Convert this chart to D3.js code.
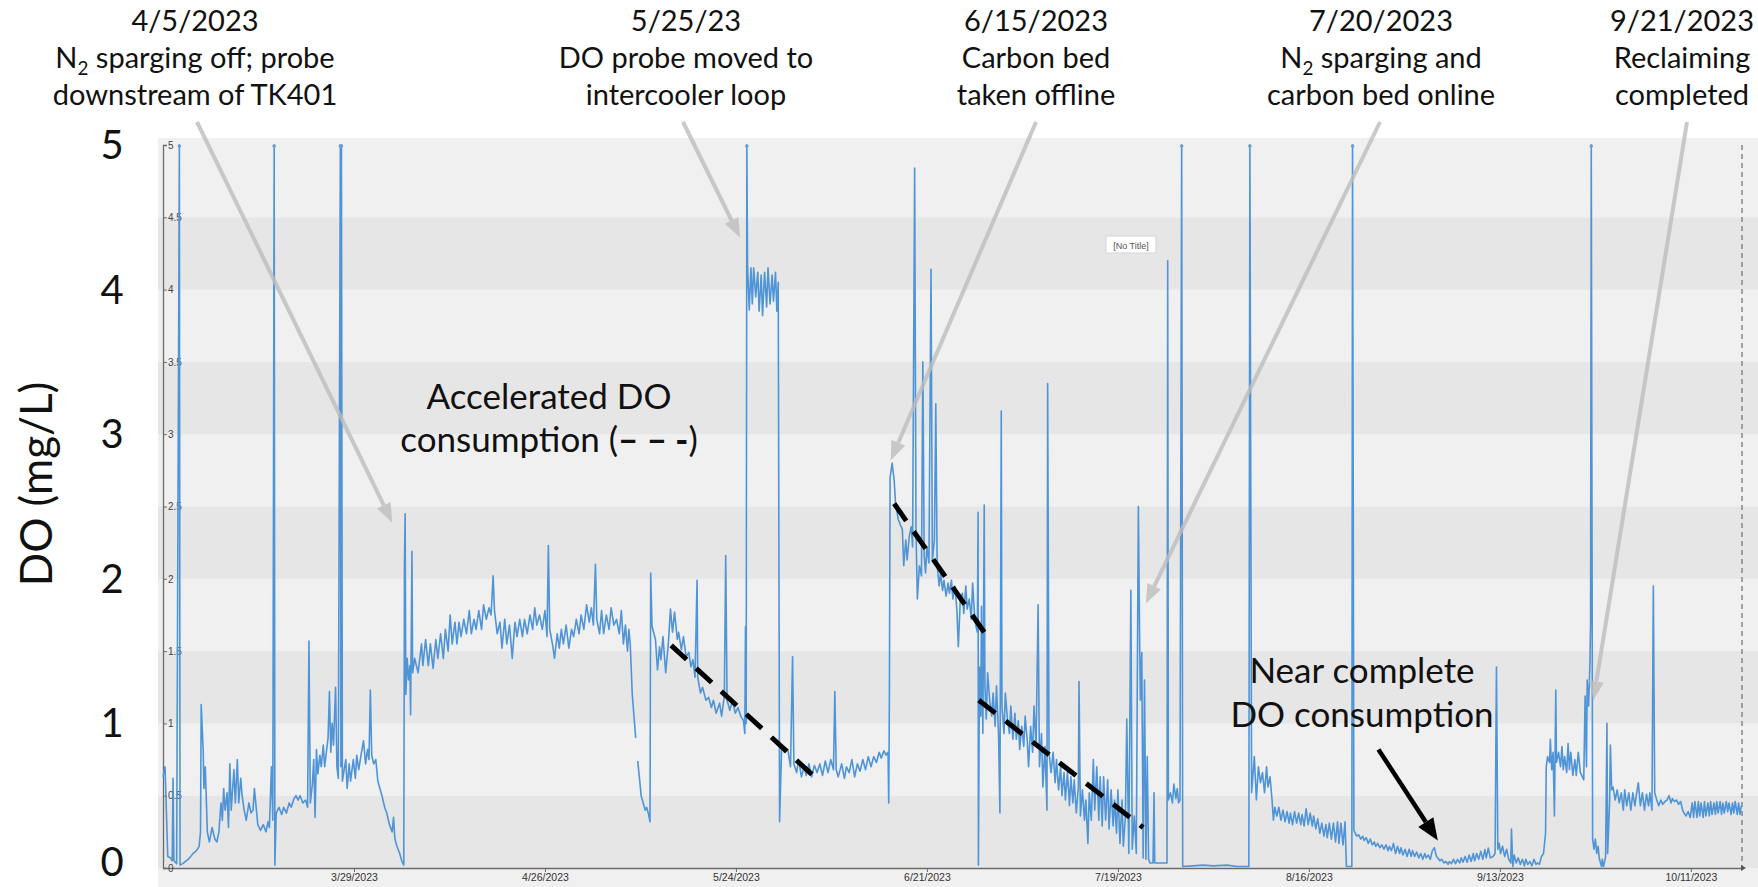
<!DOCTYPE html>
<html>
<head>
<meta charset="utf-8">
<script src="https://cdn.jsdelivr.net/npm/d3@7"></script>
<style>
  html, body { margin: 0; padding: 0; background: #ffffff; }
  svg { display: block; }
</style>
</head>
<body>
<svg id="chart" width="1758" height="887"></svg>
<script>
// Dissolved oxygen readings, [days since 1 Mar 2023, DO in mg/L]; null marks a logging gap.
const seriesStart = Date.UTC(2023, 2, 1);

const marchReadings = [
  [0.0,0.63],[0.3,0.70],[0.7,0.08],[1.1,0.07],[1.35,0.05],[1.47,0.62],[1.6,0.05],[2.0,0.03],[2.4,5.0],[2.5,0.02],
  [2.9,0.03],[3.4,0.05],[3.9,0.07],[4.4,0.10],[4.9,0.12],[5.3,0.15],[5.5,0.25],[5.6,1.13],[5.9,0.80],[6.0,0.55],
  [6.2,0.70],[6.5,0.25],[6.8,0.18],[7.2,0.28],[7.6,0.20],[7.9,0.18],[8.2,0.25],[8.5,0.45],[8.7,0.33],[8.9,0.55],
  [9.1,0.40],[9.4,0.52],[9.6,0.28],[9.8,0.72],[10.0,0.40],[10.4,0.68],[10.6,0.45],[10.9,0.75],[11.1,0.45],[11.4,0.62],
  [11.6,0.50],[11.9,0.40],[12.2,0.33],[12.6,0.45],[12.9,0.38],[13.2,0.40],[13.4,0.55],[13.6,0.45],[13.9,0.30],[14.3,0.26],
  [14.7,0.30],[15.1,0.25],[15.4,0.32],[15.6,0.28],[15.9,0.70],[16.1,0.33],[16.3,5.0],[16.4,0.02],[16.6,0.38],[17.0,0.42],
  [17.4,0.37],[17.7,0.42],[18.1,0.38],[18.5,0.45],[18.8,0.42],[19.2,0.48],[19.5,0.50],[19.8,0.47],[20.1,0.50],[20.5,0.45],
  [20.9,0.47],[21.2,0.42],[21.4,1.57],[21.6,0.45],[21.9,0.58],[22.1,0.75],[22.3,0.35],[22.5,0.82],[22.7,0.65],[23.0,0.78],
  [23.2,0.70],[23.5,0.85],[23.7,0.70],[23.9,0.78],[24.2,0.90],[24.4,1.22],[24.6,0.80],[24.8,1.00],[25.0,0.85],[25.3,1.25],
  [25.5,0.70],[25.7,0.62],[26.0,5.0],[26.08,0.70],[26.16,5.0],[26.3,0.60],[26.8,0.75],[27.0,0.55],[27.3,0.72],[27.5,0.60],
  [27.9,0.75],[28.2,0.62],[28.4,0.78],[28.7,0.68],[29.1,0.80],[29.4,0.88],[29.7,0.72],[30.0,0.82],[30.2,0.75],[30.4,1.23],
  [30.6,0.78],[30.9,0.72]
];

const aprilReadings = [
  [31.2,0.75],[31.5,0.60],[31.8,0.55],[32.1,0.50],[32.5,0.42],[32.8,0.38],[33.2,0.30],[33.6,0.25],[33.8,0.35],[34.0,0.20],
  [34.3,0.15],[34.7,0.10],[35.0,0.05],[35.3,0.02],[35.4,2.10],[35.5,2.45],[35.6,1.20],[35.8,1.45],[36.0,1.30],[36.2,1.40],
  [36.3,1.06],[36.5,2.19],[36.6,1.35],[36.9,1.45],[37.4,1.35],[37.9,1.55],[38.1,1.40],[38.5,1.58],[38.9,1.40],[39.2,1.55],
  [39.6,1.38],[40.0,1.58],[40.3,1.45],[40.7,1.62],[41.1,1.45],[41.4,1.65],[41.8,1.50],[42.1,1.75],[42.4,1.55],[42.8,1.70],
  [43.1,1.55],[43.4,1.70],[43.7,1.60],[44.1,1.72],[44.5,1.62],[44.9,1.78],[45.2,1.62],[45.6,1.72],[45.9,1.65],[46.3,1.78],
  [46.7,1.65],[47.0,1.82],[47.4,1.72],[47.8,1.80],[48.1,1.75],[48.4,2.02],[48.6,1.78],[49.0,1.62],[49.4,1.70],[49.7,1.52],
  [50.1,1.72],[50.4,1.55],[50.8,1.68],[51.2,1.45],[51.6,1.70],[51.9,1.60],[52.3,1.72],[52.7,1.60],[53.0,1.72],[53.4,1.62],
  [53.8,1.75],[54.2,1.65],[54.5,1.80],[54.8,1.68],[55.2,1.75],[55.6,1.65],[56.0,1.78],[56.3,1.60],[56.5,2.23],[56.7,1.65],
  [57.1,1.55],[57.4,1.45],[57.8,1.62],[58.1,1.52],[58.4,1.65],[58.7,1.55],[59.1,1.68],[59.5,1.52],[59.9,1.65],[60.2,1.60],
  [60.6,1.72]
];

const mayReadings = [
  [61.0,1.62],[61.3,1.75],[61.7,1.65],[62.1,1.82],[62.5,1.70],[62.8,1.80],[63.1,1.68],[63.4,2.10],[63.6,1.72],[64.0,1.62],
  [64.3,1.78],[64.6,1.62],[65.0,1.75],[65.4,1.65],[65.7,1.80],[66.1,1.68],[66.5,1.72],[66.9,1.62],[67.2,1.78],[67.5,1.55],
  [67.8,1.68],[68.1,1.50],[68.3,1.65],[68.5,1.55],[68.8,1.20],[69.3,0.90],[69.45,null],[69.6,0.74],[69.9,0.60],[70.1,0.50],
  [70.4,0.45],[70.7,0.40],[70.9,0.42],[71.2,0.37],[71.4,0.32],[71.5,2.04],[71.7,1.67],[72.2,1.58],[72.5,1.37],[72.8,1.53],
  [73.0,1.44],[73.3,1.60],[73.7,1.35],[74.1,1.56],[74.4,1.79],[74.7,1.63],[75.0,1.77],[75.4,1.58],[75.6,1.63],[76.0,1.51],
  [76.3,1.60],[76.7,1.46],[77.1,1.49],[77.4,1.39],[77.7,1.44],[78.0,1.32],[78.3,1.99],[78.4,1.32],[78.8,1.21],[79.1,1.25],
  [79.6,1.16],[80.0,1.18],[80.4,1.11],[80.7,1.16],[81.1,1.07],[81.6,1.14],[81.9,1.05],[82.3,1.19],[82.5,2.16],[82.7,1.16],
  [83.1,1.09],[83.5,1.16],[83.9,1.07],[84.3,1.11],[84.7,1.05],[85.1,1.02],[85.3,0.93],[85.4,1.67],[85.5,1.00],[85.6,5.0],
  [85.7,4.17],[85.95,3.86],[86.2,4.15],[86.4,3.90],[86.6,4.15],[86.9,3.95],[87.2,4.12],[87.4,3.85],[87.7,4.10],[87.9,3.82],
  [88.2,4.12],[88.5,3.88],[88.7,4.15],[89.0,3.90],[89.3,4.10],[89.5,3.92],[89.8,4.12],[90.0,3.85],[90.2,4.05],[90.4,0.32],
  [90.7,0.84],[91.1,0.80],[91.6,0.82]
];

const juneReadings = [
  [92.0,0.70],[92.3,1.46],[92.5,0.72],[92.9,0.66],[93.2,0.75],[93.6,0.63],[94.0,0.70],[94.3,0.64],[94.7,0.72],[95.1,0.63],
  [95.5,0.71],[95.9,0.66],[96.3,0.72],[96.7,0.64],[97.1,0.74],[97.5,0.66],[97.9,0.75],[98.3,0.68],[98.5,1.22],[98.7,0.68],
  [99.0,0.63],[99.5,0.72],[99.9,0.62],[100.2,0.70],[100.6,0.66],[101.0,0.75],[101.4,0.63],[101.8,0.72],[102.2,0.67],[102.6,0.75],
  [103.0,0.68],[103.4,0.77],[103.8,0.70],[104.2,0.77],[104.6,0.73],[105.0,0.80],[105.3,0.76],[105.7,0.81],[106.0,0.78],[106.3,0.80],
  [106.4,0.45],[106.5,1.20],[106.6,2.70],[106.9,2.80],[107.2,2.68],[107.4,2.52],[107.8,2.41],[108.4,2.34],[108.6,2.09],[108.9,2.27],
  [109.1,2.13],[109.4,2.29],[109.7,2.36],[109.9,2.22],[110.2,4.84],[110.4,2.32],[110.6,1.86],[110.9,2.09],[111.2,2.02],[111.4,3.50],
  [111.6,2.16],[111.8,2.04],[112.0,2.22],[112.3,2.11],[112.6,4.14],[112.8,2.13],[113.1,2.27],[113.3,3.21],[113.5,2.09],[113.8,1.95],
  [114.0,2.04],[114.3,1.92],[114.5,1.99],[114.8,1.88],[115.1,1.97],[115.3,1.90],[115.6,1.99],[115.8,1.86],[116.1,1.95],[116.4,1.78],
  [116.6,1.53],[116.9,1.86],[117.2,1.90],[117.4,1.76],[117.7,1.95],[117.9,1.79],[118.2,1.86],[118.5,1.72],[118.7,1.97],[119.0,1.74],
  [119.2,1.67],[119.4,1.63],[119.5,2.46],[119.55,0.02],[119.7,1.39],[119.9,1.05],[120.0,1.81],[120.2,0.93],[120.4,2.51],[120.5,1.26],
  [120.7,1.03],[120.9,1.35],[121.2,1.16],[121.5,1.05],[121.7,1.21]
];

const julyReadings = [
  [122.0,0.98],[122.2,1.26],[122.5,0.93],[122.7,0.38],[122.9,3.16],[123.0,1.12],[123.3,0.93],[123.5,1.21],[123.8,1.03],[124.1,0.93],
  [124.3,1.12],[124.6,0.89],[124.9,1.07],[125.1,0.89],[125.4,1.02],[125.6,0.82],[125.9,0.98],[126.2,0.84],[126.4,1.05],[126.7,0.89],
  [126.9,0.70],[127.2,0.98],[127.5,0.80],[127.7,1.12],[128.0,0.84],[128.3,1.82],[128.5,0.70],[128.8,0.93],[129.0,0.56],[129.3,0.84],
  [129.6,0.40],[129.7,3.35],[129.9,0.80],[130.2,0.66],[130.5,0.80],[130.8,0.59],[131.0,0.75],[131.3,0.54],[131.6,0.70],[131.8,0.50],
  [132.1,0.66],[132.3,0.47],[132.6,0.66],[132.9,0.43],[133.1,0.63],[133.4,0.45],[133.6,0.61],[133.9,0.38],[134.2,0.56],[134.3,1.29],
  [134.5,0.36],[134.8,0.54],[135.1,0.33],[135.3,0.47],[135.6,0.17],[135.8,0.52],[136.1,0.33],[136.4,0.75],[136.6,0.40],[136.9,0.70],
  [137.2,0.33],[137.4,0.63],[137.7,0.29],[137.9,0.63],[138.2,0.33],[138.5,0.61],[138.7,0.27],[139.0,0.54],[139.3,0.29],[139.5,0.47],
  [139.8,0.24],[140.0,0.54],[140.3,0.17],[140.6,0.47],[140.8,0.15],[141.1,0.36],[141.3,1.03],[141.6,0.10],[141.9,1.92],[142.1,0.13],
  [142.4,0.36],[142.7,0.10],[142.8,0.93],[143.0,2.50],[143.2,1.51],[143.3,1.16],[143.5,1.49],[143.7,0.07],[143.9,1.30],[144.1,0.06],
  [144.3,0.77],[144.5,0.06],[144.7,0.035],[145.15,0.035],[145.3,0.52],[145.4,0.035],[147.2,0.035],[147.3,4.20],[147.4,0.47],[147.7,0.52],
  [148.0,0.45],[148.2,0.58],[148.5,0.48],[148.7,0.55],[148.9,0.45],[149.1,0.47],[149.35,5.0],[149.5,0.01],[151.0,0.015],[152.5,0.02]
];

const augustReadings = [
  [154.0,0.015],[156.0,0.02],[157.5,0.01],[159.2,0.01],[159.35,5.0],[159.6,0.52],[160.0,0.77],[160.3,0.47],[160.6,0.70],[160.9,0.59],
  [161.2,0.66],[161.5,0.52],[161.8,0.70],[162.0,0.56],[162.3,0.63],[162.6,0.47],[162.8,0.33],[163.0,0.42],[163.3,0.36],[163.6,0.42],
  [163.9,0.33],[164.2,0.40],[164.5,0.32],[164.8,0.39],[165.1,0.31],[165.3,0.38],[165.6,0.30],[165.9,0.39],[166.2,0.31],[166.5,0.38],
  [166.8,0.30],[167.0,0.37],[167.3,0.29],[167.6,0.41],[167.9,0.30],[168.2,0.38],[168.5,0.29],[168.7,0.36],[169.0,0.27],[169.3,0.34],
  [169.6,0.24],[169.9,0.31],[170.2,0.22],[170.5,0.30],[170.7,0.21],[171.0,0.31],[171.3,0.20],[171.6,0.31],[171.9,0.18],[172.2,0.32],
  [172.4,0.17],[172.7,0.31],[173.0,0.16],[173.3,0.32],[173.5,0.01],[174.3,0.01],[174.4,5.0],[174.6,0.26],[175.0,0.22],[175.3,0.23],
  [175.6,0.20],[175.9,0.22],[176.1,0.19],[176.4,0.21],[176.7,0.17],[177.0,0.20],[177.3,0.16],[177.6,0.18],[177.8,0.15],[178.1,0.17],
  [178.4,0.14],[178.7,0.16],[179.0,0.13],[179.3,0.16],[179.6,0.12],[179.8,0.15],[180.1,0.12],[180.4,0.17],[180.7,0.10],[181.0,0.15],
  [181.3,0.10],[181.5,0.14],[181.8,0.09],[182.1,0.13],[182.4,0.08],[182.7,0.13],[183.0,0.08],[183.2,0.12],[183.5,0.08],[183.8,0.11]
];

const septemberReadings = [
  [184.1,0.07],[184.4,0.10],[184.7,0.06],[185.0,0.10],[185.2,0.07],[185.5,0.09],[185.8,0.06],[186.1,0.12],[186.4,0.14],[186.7,0.08],
  [186.9,0.07],[187.2,0.05],[187.5,0.06],[187.8,0.035],[188.1,0.045],[188.4,0.025],[188.6,0.045],[188.9,0.03],[189.2,0.06],[189.5,0.03],
  [189.8,0.06],[190.1,0.035],[190.35,0.07],[190.6,0.04],[190.9,0.08],[191.2,0.04],[191.5,0.09],[191.8,0.045],[192.1,0.10],[192.3,0.05],
  [192.6,0.10],[192.9,0.06],[193.2,0.115],[193.5,0.06],[193.8,0.127],[194.0,0.07],[194.3,0.138],[194.6,0.07],[195.0,0.08],[195.3,0.10],
  [195.5,1.39],[195.7,0.13],[195.9,0.17],[196.1,0.10],[196.4,0.15],[196.7,0.08],[197.0,0.13],[197.3,0.06],[197.6,0.035],[197.7,0.27],
  [197.9,0.01],[198.1,0.09],[198.4,0.035],[198.7,0.07],[199.0,0.025],[199.3,0.06],[199.6,0.015],[199.8,0.06],[200.1,0.025],[200.4,0.045],
  [200.7,0.015],[201.0,0.06],[201.3,0.025],[201.5,0.035],[201.8,0.025],[202.1,0.08],[202.4,0.10],[202.7,0.24],[202.8,0.70],[203.0,0.77],
  [203.3,0.73],[203.4,0.89],[203.6,0.68],[203.8,0.80],[204.0,0.36],[204.2,1.23],[204.3,0.73],[204.6,0.80],[204.9,0.70],[205.1,0.84],
  [205.3,0.68],[205.5,0.77],[205.8,0.66],[206.0,0.86],[206.2,0.68],[206.4,0.80],[206.7,0.64],[207.0,0.75],[207.2,0.64],[207.5,0.80],
  [207.8,0.66],[208.0,0.64],[208.3,0.61],[208.5,1.19],[208.7,0.70],[208.8,1.30],[209.0,1.12],[209.2,1.40],[209.3,1.70],[209.4,5.0],
  [209.6,0.20],[209.8,0.13],[210.0,0.20],[210.2,0.10],[210.4,0.15],[210.6,0.06],[210.9,0.01],[211.0,0.06],[211.2,0.01],[211.5,0.08],
  [211.7,1.00],[211.8,0.10],[212.1,0.47],[212.2,0.85],[212.4,0.54],[212.6,0.56],[212.9,0.47],[213.2,0.54],[213.5,0.45],[213.8,0.52]
];

const octoberReadings = [
  [214.1,0.40],[214.3,0.54],[214.6,0.43],[214.9,0.52],[215.2,0.40],[215.5,0.52],[215.8,0.43],[216.0,0.50],[216.3,0.59],[216.6,0.43],
  [216.9,0.52],[217.2,0.40],[217.5,0.51],[217.8,0.43],[218.0,0.52],[218.3,0.40],[218.5,1.95],[218.7,0.52],[219.0,0.47],[219.3,0.43],
  [219.6,0.47],[219.9,0.44],[220.2,0.46],[220.5,0.47],[220.8,0.50],[221.1,0.45],[221.3,0.48],[221.6,0.46],[221.9,0.47],[222.2,0.44],
  [222.5,0.46],[222.8,0.40],[223.0,0.38],[223.3,0.36],[223.6,0.39],[223.9,0.35],[224.2,0.45],[224.4,0.35],[224.6,0.46],[224.9,0.35],
  [225.1,0.46],[225.3,0.36],[225.5,0.45],[225.8,0.35],[226.0,0.46],[226.2,0.36],[226.5,0.45],[226.7,0.36],[226.9,0.46],[227.1,0.37],
  [227.4,0.45],[227.6,0.37],[227.8,0.46],[228.0,0.38],[228.3,0.46],[228.5,0.37],[228.7,0.45],[228.9,0.38],[229.2,0.46],[229.4,0.39],
  [229.6,0.45],[229.9,0.37],[230.1,0.45],[230.3,0.38],[230.5,0.46],[230.8,0.37],[231.0,0.45],[231.2,0.37],[231.4,0.43]
];

// Axis ticks
const xTickLabels = ["3/29/2023","4/26/2023","5/24/2023","6/21/2023","7/19/2023","8/16/2023","9/13/2023","10/11/2023"];
const yTickValues = [0,0.5,1,1.5,2,2.5,3,3.5,4,4.5,5];
const yMajorNumbers = [0,1,2,3,4,5];
const seriesEndDay = 231.5;
const sensorCeiling = 5;

// Event call-outs: title, note lines ({2} = subscript), arrow tip [day, mg/L]
const eventTitles = ["4/5/2023","5/25/23","6/15/2023","7/20/2023","9/21/2023"];
const eventNotes = [
  ["N{2} sparging off; probe","downstream of TK401"],
  ["DO probe moved to","intercooler loop"],
  ["Carbon bed","taken offline"],
  ["N{2} sparging and","carbon bed online"],
  ["Reclaiming","completed"]
];
const eventTips = [[33.6,2.39],[84.6,4.36],[106.7,2.82],[144.1,1.83],[209.7,1.16]];

// Consumption trend segments [[day, mg/L], [day, mg/L]]
const trendSegments = [
  [[74.5,1.54],[95.3,0.64]],
  [[107.2,2.52],[121.0,1.59]],
  [[119.6,1.16],[143.7,0.28]]
];
const nearZeroArrow = [[178.2,0.82],[186.9,0.19]];

// ---------- layout ----------
const W = 1758, H = 887;
const plot = { left: 163, right: 1742, top: 145, bottom: 868 };
const panel = { left: 158, right: 1758, top: 138, bottom: 887 };
const eventCenters = [195, 686, 1036, 1381, 1682];
const eventArrowStarts = [197, 683, 1036, 1380, 1687];
const textFont = "Lato, 'Open Sans', sans-serif";
const axisFont = "'Liberation Sans', Arial, sans-serif";

const dayToDate = d => new Date(seriesStart + d * 864e5);

const readings = [].concat(marchReadings, aprilReadings, mayReadings, juneReadings,
  julyReadings, augustReadings, septemberReadings, octoberReadings);

const x = d3.scaleUtc()
  .domain([dayToDate(0), dayToDate(seriesEndDay)])
  .range([plot.left, plot.right]);
const y = d3.scaleLinear().domain([0, 5]).range([plot.bottom, plot.top]);

const svg = d3.select("#chart");

// Chart panel with alternating horizontal bands
svg.append("rect")
  .attr("x", panel.left).attr("y", panel.top)
  .attr("width", panel.right - panel.left).attr("height", panel.bottom - panel.top)
  .attr("fill", "#f0f0f0");

const bandStarts = d3.range(0, 5, 0.5);
svg.append("g").selectAll("rect").data(bandStarts).join("rect")
  .attr("x", panel.left)
  .attr("width", panel.right - panel.left)
  .attr("y", d => y(d + 0.5))
  .attr("height", d => y(d) - y(d + 0.5))
  .attr("fill", (d, i) => i % 2 === 0 ? "#e6e6e6" : "#f0f0f0");

// Right-hand dashed boundary
svg.append("line")
  .attr("x1", plot.right).attr("x2", plot.right)
  .attr("y1", plot.top).attr("y2", plot.bottom)
  .attr("stroke", "#555").attr("stroke-width", 1)
  .attr("stroke-dasharray", "5,4");

// X axis
const parseTick = d3.utcParse("%m/%d/%Y");
const xAxis = d3.axisBottom(x)
  .tickValues(xTickLabels.map(parseTick))
  .tickFormat(d3.utcFormat("%-m/%-d/%Y"))
  .tickSize(4).tickSizeOuter(0).tickPadding(2);
const gx = svg.append("g")
  .attr("transform", `translate(0,${plot.bottom})`)
  .call(xAxis);
gx.select(".domain").attr("stroke", "#6b6b6b").attr("stroke-width", 1.3);
gx.selectAll(".tick line").attr("stroke", "#6b6b6b");
gx.selectAll(".tick text")
  .attr("font-family", axisFont).attr("font-size", 10.5).attr("fill", "#333");
svg.append("path")
  .attr("d", `M${plot.right + 4},${plot.bottom} l-5,-3 l0,6 z`)
  .attr("fill", "#555");

// Inner Y axis
const yAxis = d3.axisRight(y)
  .tickValues(yTickValues)
  .tickFormat(d => String(d))
  .tickSize(4).tickSizeOuter(4).tickPadding(1);
const gy = svg.append("g")
  .attr("transform", `translate(${plot.left},0)`)
  .call(yAxis);
gy.select(".domain").attr("stroke", "#6b6b6b").attr("stroke-width", 1.3);
gy.selectAll(".tick line").attr("stroke", "#6b6b6b");
gy.selectAll(".tick text")
  .attr("font-family", axisFont).attr("font-size", 10).attr("fill", "#444");

// DO trace
const line = d3.line()
  .defined(d => d[1] != null)
  .x(d => x(dayToDate(d[0])))
  .y(d => y(d[1]));
svg.append("path")
  .datum(readings)
  .attr("d", line)
  .attr("fill", "none")
  .attr("stroke", "#4f94d6")
  .attr("stroke-width", 1.6)
  .attr("stroke-linejoin", "round");

// Small caps where readings hit the sensor ceiling
svg.append("g").selectAll("circle")
  .data(readings.filter(d => d[1] != null && d[1] >= sensorCeiling))
  .join("circle")
  .attr("cx", d => x(dayToDate(d[0])))
  .attr("cy", d => y(d[1]) + 1)
  .attr("r", 1.8)
  .attr("fill", "#6a9fd0");

// "[No Title]" tag
const tag = svg.append("g").attr("transform", "translate(1106,236)");
tag.append("rect").attr("width", 50).attr("height", 17)
  .attr("fill", "#ffffff").attr("stroke", "#d4d4d4");
tag.append("text").attr("x", 25).attr("y", 12.5)
  .attr("text-anchor", "middle")
  .attr("font-family", axisFont).attr("font-size", 9).attr("fill", "#555")
  .text("[No Title]");

// Trend segments
svg.append("g").selectAll("line").data(trendSegments).join("line")
  .attr("x1", d => x(dayToDate(d[0][0]))).attr("y1", d => y(d[0][1]))
  .attr("x2", d => x(dayToDate(d[1][0]))).attr("y2", d => y(d[1][1]))
  .attr("stroke", "#000").attr("stroke-width", 5)
  .attr("stroke-dasharray", "21,13");

// Arrow helper: shaft plus filled triangular head
function arrow(g, x1, y1, x2, y2, opts) {
  const dx = x2 - x1, dy = y2 - y1, len = Math.hypot(dx, dy);
  const ux = dx / len, uy = dy / len;
  const bx = x2 - ux * opts.head, by = y2 - uy * opts.head;
  g.append("line")
    .attr("x1", x1).attr("y1", y1).attr("x2", bx).attr("y2", by)
    .attr("stroke", opts.color).attr("stroke-width", opts.width);
  g.append("path")
    .attr("d", `M${x2},${y2}L${bx - uy * opts.half},${by + ux * opts.half}L${bx + uy * opts.half},${by - ux * opts.half}Z`)
    .attr("fill", opts.color);
}

// Event pointers
const pointers = svg.append("g").attr("opacity", 0.8);
eventTips.forEach((tip, i) => {
  arrow(pointers, eventArrowStarts[i], 122, x(dayToDate(tip[0])), y(tip[1]),
    { color: "#bdbdbd", width: 4, head: 19, half: 7.5 });
});

// Near-zero pointer
arrow(svg.append("g"),
  x(dayToDate(nearZeroArrow[0][0])), y(nearZeroArrow[0][1]),
  x(dayToDate(nearZeroArrow[1][0])), y(nearZeroArrow[1][1]),
  { color: "#000", width: 4.5, head: 22, half: 9 });

// Text helper handling {n} subscripts
function richText(sel, str) {
  const parts = str.split(/\{(\d)\}/);
  parts.forEach((p, k) => {
    if (p === "") return;
    if (k % 2 === 1) {
      sel.append("tspan").attr("font-size", "65%").attr("dy", 7).text(p);
    } else {
      const t = sel.append("tspan").text(p);
      if (k > 0) t.attr("dy", -7);
    }
  });
}

// Event labels
const lineBaselines = [31, 68, 105];
const evG = svg.append("g")
  .attr("font-family", textFont).attr("font-size", 29).attr("fill", "#111")
  .attr("text-anchor", "middle");
eventTitles.forEach((title, i) => {
  const lines = [title].concat(eventNotes[i]);
  lines.forEach((s, j) => {
    const t = evG.append("text").attr("x", eventCenters[i]).attr("y", lineBaselines[j]);
    richText(t, s);
  });
});

// Mid-chart notes
const noteG = svg.append("g")
  .attr("font-family", textFont).attr("font-size", 35).attr("fill", "#111")
  .attr("text-anchor", "middle");
noteG.append("text").attr("x", 549).attr("y", 409).text("Accelerated DO");
const c2 = noteG.append("text").attr("x", 549).attr("y", 452);
c2.append("tspan").text("consumption (");
c2.append("tspan").attr("font-weight", 900).text("– – -");
c2.append("tspan").text(")");
noteG.append("text").attr("x", 1362).attr("y", 683).text("Near complete");
noteG.append("text").attr("x", 1362).attr("y", 727).text("DO consumption");

// Outer Y axis numbers (kept clear of the bottom edge) and title
const outerG = svg.append("g")
  .attr("font-family", textFont).attr("font-size", 40).attr("fill", "#111")
  .attr("text-anchor", "middle");
outerG.selectAll("text").data(yMajorNumbers).join("text")
  .attr("x", 112)
  .attr("y", d => Math.min(y(d) + 14, H - 11))
  .text(d => d);
svg.append("text")
  .attr("transform", "translate(52,484) rotate(-90)")
  .attr("text-anchor", "middle")
  .attr("font-family", textFont).attr("font-size", 44).attr("fill", "#111")
  .text("DO (mg/L)");
</script>
</body>
</html>
